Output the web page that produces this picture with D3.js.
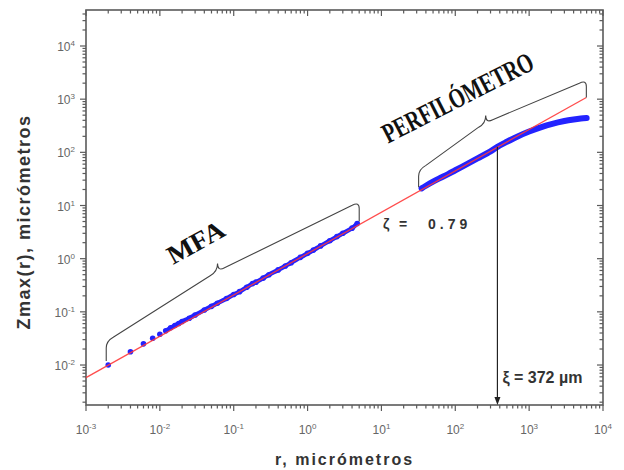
<!DOCTYPE html>
<html>
<head>
<meta charset="utf-8">
<script src="https://cdn.jsdelivr.net/npm/d3@7"></script>
<style>
  body { margin: 0; background: #fff; }
</style>
</head>
<body>
<script>
// MFA measurements: r (µm) and Zmax(r) (µm)
const mfaR = [0.002, 0.004, 0.006, 0.008, 0.010, 0.012, 0.014, 0.016, 0.018, 0.020, 0.025, 0.03, 0.04, 0.05, 0.06, 0.08, 0.1, 0.12, 0.15, 0.18, 0.2, 0.25, 0.3, 0.4, 0.5, 0.6, 0.8, 1.0, 1.2, 1.5, 2, 2.5, 3, 4, 4.7];
const mfaZ = [0.0100, 0.0178, 0.0250, 0.0318, 0.0380, 0.0440, 0.0500, 0.0555, 0.0605, 0.0660, 0.0757, 0.087, 0.108, 0.127, 0.145, 0.178, 0.212, 0.240, 0.290, 0.340, 0.362, 0.43, 0.50, 0.615, 0.73, 0.84, 1.06, 1.26, 1.45, 1.74, 2.18, 2.6, 3.0, 3.75, 4.6];

// profilometer measurements
const perfR = [35, 40, 50, 60, 80, 100, 150, 200, 300, 372, 500, 700, 1000, 1500, 2000, 3000, 4000, 5000, 6000];
const perfZ = [21, 23.5, 28, 32, 39, 46, 62, 77, 104, 127, 158, 199, 246, 302, 340, 388, 415, 432, 441];

// power-law fit (zeta = 0.79), end points
const fitR = [0.001, 5950];
const fitZ = [0.0058, 1075];
const zetaText = "0.79";
const xiR = 372;
const xiZ = 127;

const xTickExp = [-3, -2, -1, 0, 1, 2, 3, 4];
const yTickExp = [-2, -1, 0, 1, 2, 3, 4];

const width = 624;
const height = 470;
const mLeft = 86, mRight = 603, mTop = 10, mBottom = 405;

const x = d3.scaleLog().domain([1e-3, 1e4]).range([mLeft, mRight]);
const y = d3.scaleLog().domain([Math.pow(10, -2.752), Math.pow(10, 4.677)]).range([mBottom, mTop]);

const svg = d3.select("body")
    .append("svg")
    .attr("width", width)
    .attr("height", height)
    .attr("viewBox", [0, 0, width, height]);

const axisColor = "#5a5a5a";
const isMajor = v => Math.abs(Math.log10(v) - Math.round(Math.log10(v))) < 1e-9;

// frame
svg.append("rect")
    .attr("x", mLeft).attr("y", mTop)
    .attr("width", mRight - mLeft).attr("height", mBottom - mTop)
    .attr("fill", "none")
    .attr("stroke", axisColor)
    .attr("stroke-width", 1.6);

const ticks = svg.append("g").attr("stroke", axisColor).attr("stroke-width", 1.2);

// bottom (outward) and top (inward) ticks
ticks.selectAll(".xb").data(x.ticks()).join("line")
    .attr("x1", d => x(d)).attr("x2", d => x(d))
    .attr("y1", mBottom).attr("y2", d => mBottom + (isMajor(d) ? 6 : 3.5));
ticks.selectAll(".xt").data(x.ticks()).join("line")
    .attr("x1", d => x(d)).attr("x2", d => x(d))
    .attr("y1", mTop).attr("y2", d => mTop + (isMajor(d) ? 6 : 3.5));

// left (outward) and right (inward) ticks
ticks.selectAll(".yl").data(y.ticks()).join("line")
    .attr("y1", d => y(d)).attr("y2", d => y(d))
    .attr("x1", mLeft).attr("x2", d => mLeft - (isMajor(d) ? 6 : 3.5));
ticks.selectAll(".yr").data(y.ticks()).join("line")
    .attr("y1", d => y(d)).attr("y2", d => y(d))
    .attr("x1", mRight).attr("x2", d => mRight - (isMajor(d) ? 6 : 3.5));

// tick labels 10^n
const labelFont = "Liberation Sans, Arial, sans-serif";
const xl = svg.append("g")
    .attr("font-family", labelFont)
    .attr("font-size", 12)
    .attr("fill", "#666")
    .selectAll("text").data(xTickExp).join("text")
    .attr("x", d => x(Math.pow(10, d)))
    .attr("y", 434)
    .attr("text-anchor", "middle");
xl.append("tspan").text("10");
xl.append("tspan").attr("font-size", 8).attr("dy", -5).text(d => d < 0 ? "-" + (-d) : d);

const yl = svg.append("g")
    .attr("font-family", labelFont)
    .attr("font-size", 12)
    .attr("fill", "#666")
    .selectAll("text").data(yTickExp).join("text")
    .attr("x", 75)
    .attr("y", d => y(Math.pow(10, d)) + 5)
    .attr("text-anchor", "end");
yl.append("tspan").text("10");
yl.append("tspan").attr("font-size", 8).attr("dy", -5).text(d => d < 0 ? "-" + (-d) : d);

// axis titles
svg.append("text")
    .attr("x", (mLeft + mRight) / 2)
    .attr("y", 465)
    .attr("text-anchor", "middle")
    .attr("font-family", labelFont)
    .attr("font-weight", "bold")
    .attr("font-size", 16)
    .attr("letter-spacing", 2)
    .attr("fill", "#333")
    .text("r, micrómetros");

svg.append("text")
    .attr("transform", "translate(30,222) rotate(-90)")
    .attr("text-anchor", "middle")
    .attr("font-family", labelFont)
    .attr("font-weight", "bold")
    .attr("font-size", 18)
    .attr("letter-spacing", 1.5)
    .attr("fill", "#333")
    .text("Zmax(r), micrómetros");

// data
const blue = "#2323ff";
const mfa = mfaR.map((r, i) => [r, mfaZ[i]]);
const perf = perfR.map((r, i) => [r, perfZ[i]]);
const line = d3.line().x(d => x(d[0])).y(d => y(d[1])).curve(d3.curveCatmullRom);

svg.append("path")
    .datum(mfa.filter(d => d[0] >= 0.012))
    .attr("d", line)
    .attr("fill", "none")
    .attr("stroke", blue)
    .attr("stroke-width", 4.5)
    .attr("stroke-linecap", "round");

svg.append("g").attr("fill", blue)
    .selectAll("circle").data(mfa).join("circle")
    .attr("cx", d => x(d[0]))
    .attr("cy", d => y(d[1]))
    .attr("r", 2.8);

svg.append("path")
    .datum(perf)
    .attr("d", line)
    .attr("fill", "none")
    .attr("stroke", blue)
    .attr("stroke-width", 6)
    .attr("stroke-linecap", "round");

// fit line
svg.append("line")
    .attr("x1", x(fitR[0])).attr("y1", y(fitZ[0]))
    .attr("x2", x(fitR[1])).attr("y2", y(fitZ[1]))
    .attr("stroke", "#ff3a3a")
    .attr("stroke-width", 1.3)
    .attr("stroke-opacity", 0.9);

// curly braces, sheared along the data line
function brace(p1, p2, h, tipT, rise, bump, r) {
    const L = p2[0] - p1[0];
    const tip = L * tipT;
    const m = (u, v) => [p1[0] + u, p1[1] + (p2[1] - p1[1]) * u / L - v].join(",");
    return "M" + m(0, 0) +
        "L" + m(0, h - r) +
        "Q" + m(0, h) + " " + m(r, h) +
        "L" + m(tip - r, h + rise) +
        "Q" + m(tip, h + rise) + " " + m(tip, h + rise + bump) +
        "Q" + m(tip, h + rise) + " " + m(tip + r, h + rise) +
        "L" + m(L - r, h) +
        "Q" + m(L, h) + " " + m(L, h - r) +
        "L" + m(L, 0);
}

const braces = svg.append("g")
    .attr("fill", "none")
    .attr("stroke", "#444")
    .attr("stroke-width", 1.1);

braces.append("path")
    .attr("d", brace([x(mfaR[0]) - 2, y(mfaZ[0]) - 4],
                     [x(mfaR[mfaR.length - 1]) + 2, y(mfaZ[mfaZ.length - 1]) - 2], 20, 0.44, 8, 8, 7));

braces.append("path")
    .attr("d", brace([x(perfR[0]) - 3, y(perfZ[0]) - 1],
                     [x(fitR[1]), y(fitZ[1])], 18, 0.40, 10, 8, 7));

// region labels
svg.append("text")
    .attr("transform", "translate(200,250) rotate(-29)")
    .attr("text-anchor", "middle")
    .attr("font-family", "Liberation Serif, Times New Roman, serif")
    .attr("font-weight", "bold")
    .attr("font-size", 26)
    .attr("textLength", 62)
    .attr("lengthAdjust", "spacingAndGlyphs")
    .attr("fill", "#111")
    .text("MFA");

svg.append("text")
    .attr("transform", "translate(462,106) rotate(-27)")
    .attr("text-anchor", "middle")
    .attr("font-family", "Liberation Serif, Times New Roman, serif")
    .attr("font-weight", "bold")
    .attr("font-size", 28)
    .attr("textLength", 166)
    .attr("lengthAdjust", "spacingAndGlyphs")
    .attr("fill", "#111")
    .text("PERFILÓMETRO");

// zeta annotation
const zt = svg.append("text")
    .attr("y", 229)
    .attr("font-family", labelFont)
    .attr("font-weight", "bold")
    .attr("font-size", 14)
    .attr("fill", "#333");
zt.append("tspan").attr("x", 383).text("ζ");
zt.append("tspan").attr("x", 399).text("=");
zt.append("tspan").attr("x", 428).attr("letter-spacing", 4).text(zetaText);

// xi arrow
svg.append("line")
    .attr("x1", x(xiR)).attr("x2", x(xiR))
    .attr("y1", y(xiZ)).attr("y2", mBottom - 6)
    .attr("stroke", "#222")
    .attr("stroke-width", 1.2);
svg.append("path")
    .attr("d", `M${x(xiR) - 3},${mBottom - 8}L${x(xiR) + 3},${mBottom - 8}L${x(xiR)},${mBottom}Z`)
    .attr("fill", "#222");

svg.append("text")
    .attr("x", x(xiR) + 5)
    .attr("y", 383)
    .attr("font-family", labelFont)
    .attr("font-weight", "bold")
    .attr("font-size", 16)
    .attr("fill", "#333")
    .text("ξ = " + xiR + " µm");
</script>
</body>
</html>
